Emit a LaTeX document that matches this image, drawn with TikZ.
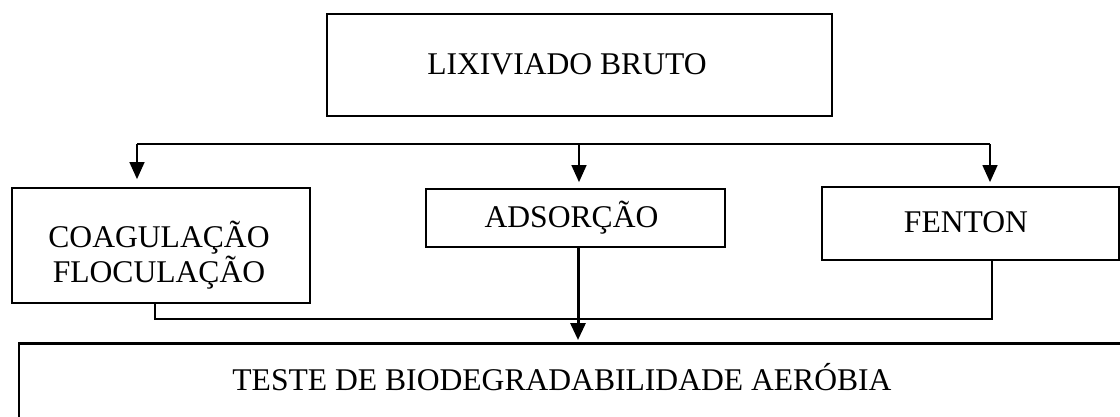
\documentclass[tikz,border=0pt]{standalone}
\usepackage{fontspec}
\setmainfont{Liberation Serif}
\usetikzlibrary{arrows.meta}
\begin{document}
\begin{tikzpicture}[x=1pt,y=-1pt,
  boxnode/.style={draw,line width=1.8pt,inner sep=0pt},
  lbl/.style={inner sep=0pt,anchor=base,font=\fontsize{31.6}{35}\selectfont,align=center},
  conn/.style={line width=1.5pt},
  arr/.style={line width=1.4pt,-{Triangle[width=15pt,length=17pt]}},
]
\useasboundingbox (0,0) rectangle (1120,416);
\clip (0,0) rectangle (1120,416);
% boxes
\node[boxnode,minimum width=505pt,minimum height=102pt] (top) at (579.5,65) {};
\node[boxnode,minimum width=298pt,minimum height=115pt] (coag) at (161,245.5) {};
\node[boxnode,minimum width=299pt,minimum height=58pt] (ads) at (575.5,218) {};
\node[boxnode,minimum width=297pt,minimum height=73pt] (fen) at (970.5,223.5) {};
\node[boxnode,minimum width=1121pt,minimum height=100pt] (test) at (579.5,394) {};
\draw[line width=3pt] (test.north west) -- (test.north east);
% labels
\node[lbl] (ttop) at (567,74) {LIXIVIADO BRUTO};
\node[lbl] (tcoag) at (159,282) {COAGULAÇÃO\\FLOCULAÇÃO};
\node[lbl] (tads) at (571.5,227) {ADSORÇÃO};
\node[lbl] (tfen) at (966,232) {FENTON};
\node[lbl] (ttest) at (562,390) {TESTE DE BIODEGRADABILIDADE AERÓBIA};
% upper branch
\coordinate (bl) at (137,144);
\coordinate (bm) at (579,144);
\coordinate (br) at (990,144);
\draw[conn] (bl) -- (br);
\draw[arr,shorten >=8pt] (bl) -- (bl |- coag.north);
\draw[arr,shorten >=6pt] (bm) -- (bm |- ads.north);
\draw[arr,shorten >=4pt] (br) -- (br |- fen.north);
% lower branch
\coordinate (cl) at (155,319);
\coordinate (cr) at (992,319);
\draw[conn] (cl |- coag.south) -- (cl) -- (cr) -- (cr |- fen.south);
\coordinate (bt) at (578,344);
\draw[line width=3pt,-{Triangle[width=15pt,length=17pt]},shorten >=4pt] (bt |- ads.south) -- (bt);
\end{tikzpicture}
\end{document}
